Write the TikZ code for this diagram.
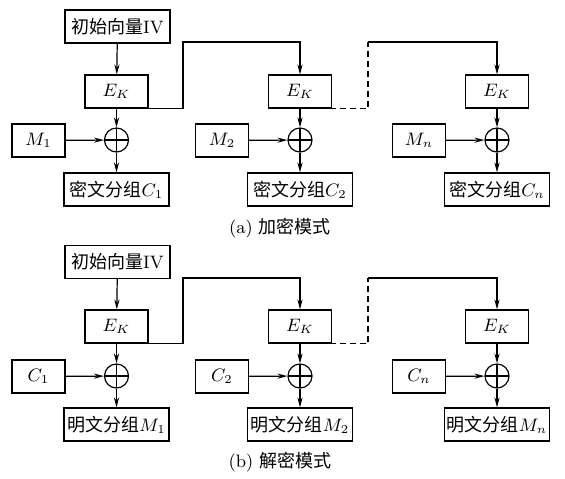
\documentclass[tikz,border=0pt]{standalone}
\usepackage{fontspec}
\newfontfamily\cjk{Noto Sans CJK SC}
\usetikzlibrary{arrows.meta}

\begin{document}
\begin{tikzpicture}[x=0.5pt,y=-0.5pt, font=\fontsize{9}{11}\selectfont,
  >={Stealth[length=5pt,width=2.6pt]}, line width=0.6pt,
  box/.style={draw, minimum height=16.5pt, inner sep=0pt},
  widebox/.style={box, minimum width=52.5pt},
  ekbox/.style={box, minimum width=31.5pt},
  inbox/.style={box, minimum width=26.5pt},
  xorc/.style={draw, circle, minimum size=12pt, inner sep=0pt,
    path picture={\draw (path picture bounding box.north) -- (path picture bounding box.south)
      (path picture bounding box.west) -- (path picture bounding box.east);}},
  feed/.style={dash pattern=on 3pt off 2pt}]
\useasboundingbox (0,0) rectangle (565,478);

% (a) encryption
\node[widebox] (iva) at (117.5,26.5) {{\cjk 初始向量}IV};
\foreach \i/\x/\s in {1/116.5/1, 2/300/2, 3/497/n} {
 \node[ekbox] (ea\i) at (\x,91.5) {$E_K$};
 \node[xorc] (xa\i) at (\x,140) {};
 \node[inbox] (ma\i) at (\x-78,140.5) {$M_\s$};
 \node[widebox] (ca\i) at (\x,189.5) {{\cjk 密文分组}$C_\s$};
 \draw[->] (ea\i) -- (xa\i);
 \draw[->] (ma\i) -- (xa\i);
 \draw[->] (xa\i) -- (ca\i);
 }
\draw[->] (iva) -- (ea1);
\coordinate (ta1) at (183,42);
\coordinate (ta2) at (368,42);
\draw[->] (ea1.south) -| (ta1) -| (ea2.north);
\draw[feed] (ea2.south) -| (ta2);
\draw[->] (ta2) -| (ea3.north);
\node (capa) at (280,228) {(a) {\cjk 加密模式}};

% (b) decryption
\node[widebox] (ivb) at (117.5,262) {{\cjk 初始向量}IV};
\foreach \i/\x/\s in {1/116.5/1, 2/300/2, 3/497/n} {
 \node[ekbox] (eb\i) at (\x,326.5) {$E_K$};
 \node[xorc] (xb\i) at (\x,376) {};
 \node[inbox] (cb\i) at (\x-78,376.5) {$C_\s$};
 \node[widebox] (mb\i) at (\x,424.5) {{\cjk 明文分组}$M_\s$};
 \draw[->] (eb\i) -- (xb\i);
 \draw[->] (cb\i) -- (xb\i);
 \draw[->] (xb\i) -- (mb\i);
 }
\draw[->] (ivb) -- (eb1);
\coordinate (tb1) at (183,278);
\coordinate (tb2) at (368,278);
\draw[->] (eb1.south) -| (tb1) -| (eb2.north);
\draw[feed] (eb2.south) -| (tb2);
\draw[->] (tb2) -| (eb3.north);
\node (capb) at (280,462) {(b) {\cjk 解密模式}};
\end{tikzpicture}
\end{document}
